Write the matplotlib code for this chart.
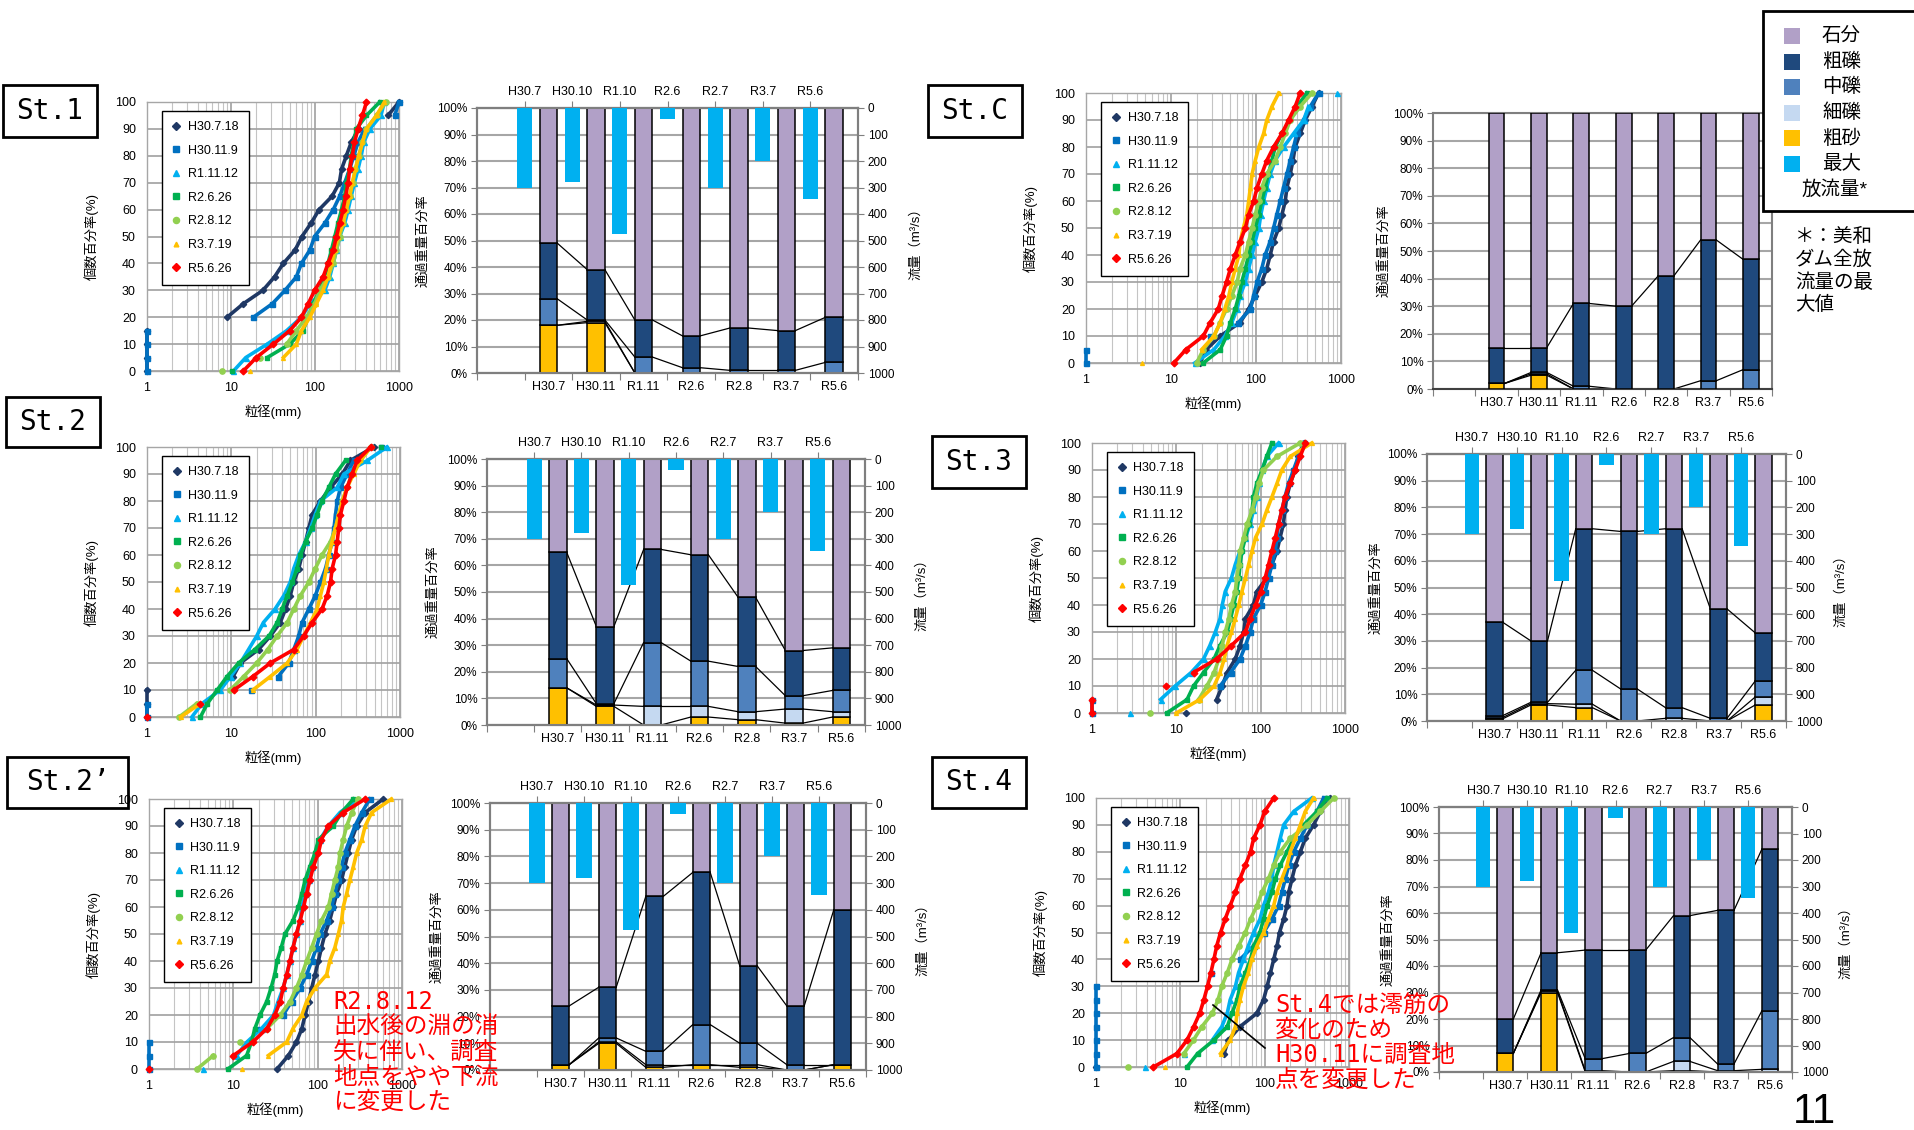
import matplotlib
matplotlib.use('Agg')
import matplotlib.pyplot as plt
import numpy as np
from matplotlib.patches import Rectangle
from matplotlib.lines import Line2D
from matplotlib.ticker import FuncFormatter, NullFormatter, PercentFormatter, FixedLocator

plt.rcParams['font.family'] = ['Liberation Sans', 'Noto Sans CJK JP']

# ---------------- data ----------------
SERIES_NAMES = ['H30.7.18', 'H30.11.9', 'R1.11.12', 'R2.6.26', 'R2.8.12', 'R3.7.19', 'R5.6.26']
SERIES_COLORS = ['#1F3864', '#0070C0', '#00B0F0', '#00B050', '#92D050', '#FFC000', '#FF0000']
SERIES_MARKERS = ['D', 's', '^', 's', 'o', '^', 'D']
SERIES_MS = [3.2, 3.6, 3.6, 3.4, 3.8, 2.8, 3.4]

# cumulative percentage levels (%), grain size (mm) read at each level
Y_LEVELS = [0, 5, 10, 15, 20, 25, 30, 35, 40, 45, 50, 55, 60, 65, 70, 75, 80, 85, 90, 95, 100]

ST1_GRAIN = [
    [1, 1, 1, 1, 9, 14, 24, 33, 42, 58, 70, 90, 112, 160, 195, 207, 236, 270, 330, 740, 1000],
    [1, 1, 1, 1, 18.5, 31, 44, 60, 69, 87, 99, 131, 165, 197, 226, 258, 290, 325, 390, 890, 1000],
    [10.7, 15, 27, 46, 69, 87, 131, 150, 165, 180, 197, 226, 248, 270, 295, 325, 355, 380, 450, 610, 670],
    [10.2, 27, 50, 72, 83, 95, 114, 131, 143, 157, 172, 188, 207, 226, 236, 258, 270, 290, 310, 410, 590],
    [7.8, 22, 46, 60, 79, 99, 114, 143, 165, 180, 197, 216, 236, 258, 282, 303, 332, 367, 410, 540, 700],
    [17, 42, 60, 69, 87, 104, 125, 143, 157, 172, 188, 216, 236, 258, 278, 303, 332, 367, 410, 540, 670],
    [14, 20, 32, 50, 69, 83, 99, 125, 143, 165, 180, 197, 216, 232, 248, 258, 278, 295, 325, 367, 410],
]
STC_GRAIN = [
    [22, 26, 38, 65, 82, 98, 117, 134, 147, 161, 185, 202, 221, 231, 253, 272, 289, 331, 380, 456, 545],
    [1, 1, 29, 62, 86, 94, 103, 117, 128, 147, 161, 176, 193, 211, 231, 253, 277, 303, 364, 435, 545],
    [19, 32, 43, 52, 60, 65, 75, 82, 90, 98, 108, 114, 123, 134, 147, 168, 211, 277, 364, 415, 890],
    [24, 38, 45, 50, 57, 63, 68, 75, 82, 90, 98, 108, 117, 128, 140, 154, 168, 202, 253, 303, 398],
    [20, 24, 32, 38, 45, 52, 60, 65, 75, 82, 90, 98, 108, 117, 134, 168, 193, 221, 253, 331, 456],
    [4.6, 23, 32, 38, 43, 48, 52, 57, 63, 65, 71, 78, 82, 86, 90, 98, 108, 123, 134, 154, 185],
    [10.8, 15, 24, 29, 36, 40, 45, 50, 57, 65, 75, 82, 94, 103, 117, 134, 161, 202, 242, 289, 331],
]
ST2_GRAIN = [
    [1, 1, 1, 10.5, 12.8, 21, 29, 38, 44, 50, 55, 63, 69, 76, 83, 91, 114, 150, 207, 258, 490],
    [1, 1, 17, 36, 48, 55, 63, 69, 83, 99, 114, 131, 143, 157, 165, 172, 180, 197, 236, 282, 590],
    [3.4, 4.5, 7.4, 9.8, 12.8, 16, 20, 24, 33, 42, 50, 55, 63, 76, 87, 99, 114, 180, 216, 410, 700],
    [4.3, 5.2, 6.8, 8.9, 12.2, 19, 28, 35, 40, 46, 53, 60, 66, 76, 91, 104, 119, 143, 172, 226, 590],
    [2.4, 3.9, 9.7, 14, 20, 27, 35, 46, 55, 66, 83, 99, 119, 150, 172, 188, 207, 236, 270, 340, 450],
    [2.5, 4.3, 18, 29, 46, 60, 72, 87, 104, 114, 125, 134, 143, 157, 172, 188, 207, 236, 282, 340, 450],
    [1, 4.2, 10.7, 18, 29, 55, 72, 91, 119, 137, 150, 157, 172, 180, 188, 197, 216, 236, 270, 310, 450],
]
ST3_GRAIN = [
    [13, 30, 35, 40, 50, 57, 63, 66, 82, 90, 118, 136, 156, 170, 186, 194, 204, 224, 256, 280, 323],
    [1, 1, 33, 44, 57, 66, 75, 82, 100, 113, 124, 136, 149, 156, 163, 178, 194, 214, 245, 280, 323],
    [2.8, 6.5, 9.7, 15, 21, 25, 29, 33, 35, 38, 45, 50, 57, 66, 75, 82, 90, 95, 104, 118, 163],
    [7.7, 13.4, 16, 21, 28, 33, 40, 44, 48, 52, 55, 57, 60, 66, 72, 79, 82, 90, 104, 118, 136],
    [4.9, 18.4, 23, 28, 32, 35, 38, 42, 45, 50, 52, 55, 57, 63, 69, 79, 87, 95, 108, 156, 294],
    [10, 19, 28, 33, 37, 40, 45, 50, 55, 60, 66, 72, 79, 87, 104, 118, 136, 156, 178, 224, 404],
    [1, 1, 7.6, 16, 30, 45, 66, 75, 87, 100, 113, 124, 136, 149, 163, 178, 194, 224, 256, 294, 340],
]
ST2D_GRAIN = [
    [33, 45, 56, 65, 71, 78, 85, 93, 102, 111, 122, 139, 153, 168, 192, 210, 230, 253, 290, 366, 600],
    [1, 1, 1, 19, 39, 49, 62, 74, 85, 97, 107, 128, 146, 160, 176, 192, 210, 241, 277, 334, 415],
    [4.4, 11, 14.5, 21.6, 30, 34, 39, 43, 47, 51, 56, 62, 65, 71, 78, 85, 93, 107, 134, 184, 303],
    [8.6, 14.4, 16.4, 18, 20.7, 24.9, 28, 31, 33, 37, 41, 51, 59, 65, 71, 81, 93, 102, 153, 192, 265],
    [3.7, 5.8, 12, 25, 36, 47, 56, 65, 74, 85, 97, 111, 134, 146, 160, 176, 184, 201, 221, 253, 303],
    [12.5, 26, 43, 51, 65, 74, 93, 128, 139, 160, 176, 192, 201, 221, 241, 265, 290, 334, 366, 437, 750],
    [1, 10, 17, 25, 31, 36, 39, 43, 47, 51, 56, 62, 68, 74, 81, 89, 102, 111, 134, 201, 366],
]
ST4_GRAIN = [
    [1, 33, 37, 51, 81, 97, 107, 117, 128, 140, 150, 168, 184, 193, 211, 231, 265, 303, 380, 457, 600],
    [1, 1, 1, 1, 1, 1, 1, 23, 51, 74, 97, 122, 146, 160, 176, 193, 221, 265, 318, 417, 500],
    [3.8, 11, 24, 31, 36, 39, 45, 49, 56, 64, 74, 88, 97, 111, 122, 128, 140, 153, 168, 221, 363],
    [12, 16, 25, 36, 41, 47, 51, 59, 68, 74, 88, 97, 107, 122, 134, 153, 184, 221, 290, 417, 550],
    [2.4, 11, 14.3, 18, 24, 28, 31, 36, 41, 49, 59, 68, 81, 93, 111, 128, 153, 201, 318, 457, 660],
    [6.6, 30, 39, 45, 47, 51, 56, 64, 70, 81, 97, 111, 128, 140, 160, 184, 201, 231, 265, 303, 380],
    [4.8, 9.1, 12, 14.4, 17, 19, 21, 23, 25, 27, 30, 34, 39, 45, 51, 59, 68, 74, 88, 100, 128],
]

# bar charts (passing weight percentage by class, bottom -> top)
SURVEY_LABELS = ['H30.7', 'H30.11', 'R1.11', 'R2.6', 'R2.8', 'R3.7', 'R5.6']
FLOW_LABELS = ['H30.7', 'H30.10', 'R1.10', 'R2.6', 'R2.7', 'R3.7', 'R5.6']
FLOW = [300, 280, 475, 40, 300, 200, 345]
COMP_NAMES = ['粗砂', '細礫', '中礫', '粗礫', '石分']
COMP_COLORS = ['#FFC000', '#C5D9F1', '#4F81BD', '#1F497D', '#B1A0C7']
FLOW_COLOR = '#00B0F0'

ST1_BARS = [[18, 19, 0, 0, 0, 0, 0],
            [0, 0.5, 0, 0, 0, 0, 0],
            [10, 0.5, 6, 2, 1, 1, 4],
            [21, 19, 14, 12, 16, 15, 17],
            [51, 61, 80, 86, 83, 84, 79]]
STC_BARS = [[2, 5, 0, 0, 0, 0, 0],
            [0, 0.5, 0, 0, 0, 0, 0],
            [0, 0.5, 1, 0, 0, 3, 7],
            [13, 9, 30, 30, 41, 51, 40],
            [85, 85, 69, 70, 59, 46, 53]]
ST2_BARS = [[14, 7, 0, 3, 2, 0.7, 3],
            [0, 0.5, 7, 4, 3, 5.3, 2],
            [11, 0.5, 24, 17, 17, 5, 8],
            [40, 29, 35, 40, 26, 17, 16],
            [35, 63, 34, 36, 52, 72, 71]]
ST3_BARS = [[0.8, 6, 5, 0, 0, 0, 6],
            [0.5, 0.5, 1.3, 0, 1, 0, 3],
            [0.7, 0.5, 12.7, 12, 4, 1, 6],
            [35, 23, 53, 59, 67, 41, 18],
            [63, 70, 28, 29, 28, 58, 67]]
ST2D_BARS = [[2, 10, 1, 2, 1, 0, 2],
             [0, 0.5, 1, 0, 1, 0, 0],
             [0, 1.5, 5, 15, 8, 2, 0],
             [22, 19, 58, 57, 29, 22, 58],
             [76, 69, 35, 26, 61, 76, 40]]
ST4_BARS = [[7, 30, 0, 0, 0.5, 0, 0],
            [0, 0.5, 0.5, 0, 3.5, 0.5, 1],
            [0, 0.5, 4.5, 7, 9, 2.5, 22],
            [13, 14, 41, 39, 46, 58, 61],
            [80, 55, 54, 54, 41, 39, 16]]

# ---------------- figure ----------------
W, H = 1915, 1130
fig = plt.figure(figsize=(W / 100, H / 100), dpi=100)


def frac_rect(x0, y0, x1, y1):
    return [x0 / W, 1 - y1 / H, (x1 - x0) / W, (y1 - y0) / H]


def fx(x):
    return x / W


def fy(y):
    return 1 - y / H


def grain_panel(rect, data):
    ax = fig.add_axes(frac_rect(*rect))
    ax.set_xscale('log')
    ax.set_xlim(1, 1000)
    ax.set_ylim(0, 100)
    ax.set_yticks(range(0, 101, 10))
    ax.xaxis.set_major_formatter(FuncFormatter(lambda v, p: f'{int(round(v))}'))
    ax.xaxis.set_minor_formatter(NullFormatter())
    ax.grid(which='major', color='#A0A0A0', lw=1.2)
    ax.grid(which='minor', axis='x', color='#C4C4C4', lw=0.8)
    ax.set_axisbelow(True)
    ax.tick_params(which='both', length=0, labelsize=9, pad=8)
    for s in ax.spines.values():
        s.set_color('#A6A6A6')
        s.set_linewidth(1.0)
    ys_all = np.array(Y_LEVELS, float)
    for xs, c, m, ms in zip(data, SERIES_COLORS, SERIES_MARKERS, SERIES_MS):
        xs = np.array(xs, float)
        segs = [[0]]
        for i in range(1, len(xs)):
            brk = ((xs[i - 1] == 1) != (xs[i] == 1)) or abs(np.log10(xs[i] / xs[i - 1])) > 0.3
            if brk:
                segs.append([i])
            else:
                segs[-1].append(i)
        for sg in segs:
            ax.plot(xs[sg], ys_all[sg], color=c, lw=2.6, marker=m, ms=ms,
                    mec=c, mfc=c, clip_on=False, zorder=3)
    handles = [Line2D([], [], ls='none', marker=m, color=c, ms=ms + 0.6)
               for c, m, ms in zip(SERIES_COLORS, SERIES_MARKERS, SERIES_MS)]
    leg = ax.legend(handles, SERIES_NAMES, loc='upper left', bbox_to_anchor=(0.06, 0.967),
                    borderaxespad=0, frameon=True, fancybox=False, edgecolor='black',
                    framealpha=1, fontsize=9, handlelength=0.7, handletextpad=0.6,
                    labelspacing=0.93, borderpad=0.8)
    leg.get_frame().set_linewidth(1.0)
    leg.set_zorder(5)
    ax.set_xlabel('粒径(mm)', fontsize=9.5)
    ax.set_ylabel('個数百分率(%)', fontsize=9.5)
    ax.xaxis.set_label_coords(0.5, -0.125)
    ax.yaxis.set_label_coords(-0.19, 0.5)
    return ax


def bar_panel(rect, comps, with_flow=True):
    ax = fig.add_axes(frac_rect(*rect))
    n = len(SURVEY_LABELS)
    xs_s = np.arange(n) + 1.5
    xs_f = np.arange(n) + 1.0
    wb = 0.37
    bottom = np.zeros(n)
    tops = []
    for vals, color in zip(comps, COMP_COLORS):
        v = np.array(vals, float)
        ax.bar(xs_s, v, width=wb, bottom=bottom, color=color, edgecolor='black',
               linewidth=1.1, zorder=3)
        bottom = bottom + v
        tops.append(bottom.copy())
    for t in tops[:-1]:
        for i in range(n - 1):
            ax.plot([xs_s[i] + wb / 2, xs_s[i + 1] - wb / 2], [t[i], t[i + 1]],
                    color='black', lw=0.9, zorder=2)
    ax.set_xlim(0, n + 1)
    ax.set_ylim(0, 100)
    ax.set_yticks(range(0, 101, 10))
    ax.yaxis.set_major_formatter(PercentFormatter(decimals=0))
    ax.set_xticks(np.arange(0, n + 2))
    ax.set_xticklabels([])
    ax.xaxis.set_minor_locator(FixedLocator(xs_s))
    ax.set_xticks(xs_s, SURVEY_LABELS, minor=True)
    ax.tick_params(axis='x', which='minor', length=0, labelsize=9, pad=6)
    ax.tick_params(axis='x', which='major', length=5, color='#7F7F7F', direction='out')
    ax.tick_params(axis='y', length=4, color='#7F7F7F', labelsize=8.5, pad=3)
    ax.grid(axis='y', color='#A6A6A6', lw=1.5, zorder=0)
    ax.set_axisbelow(True)
    for s in ax.spines.values():
        s.set_color('#7F7F7F')
        s.set_linewidth(1.5)
    ax.spines['bottom'].set_color('#404040')
    ax.set_ylabel('通過重量百分率', fontsize=9.5)
    ax.yaxis.set_label_coords(-0.125, 0.5)
    if with_flow:
        axr = ax.twinx()
        axr.bar(xs_f, FLOW, width=0.32, color=FLOW_COLOR, zorder=3)
        axr.set_ylim(1000, 0)
        axr.set_yticks(range(0, 1001, 100))
        axr.tick_params(axis='y', length=4, color='#7F7F7F', labelsize=8.5, pad=3)
        for s in axr.spines.values():
            s.set_color('#7F7F7F')
            s.set_linewidth(1.5)
        axr.set_ylabel('流量（m³/s）', fontsize=9.5)
        axr.yaxis.set_label_coords(1.135, 0.5)
        sec = ax.secondary_xaxis('top')
        sec.set_xticks(xs_f, FLOW_LABELS)
        sec.tick_params(length=5, color='#7F7F7F', labelsize=9, pad=2)
        sec.spines['top'].set_color('#7F7F7F')
        sec.spines['top'].set_linewidth(1.5)
    return ax


def station_box(x0, y0, x1, y1, label):
    fig.add_artist(Rectangle((fx(x0), fy(y1)), fx(x1) - fx(x0), fy(y0) - fy(y1),
                             transform=fig.transFigure, fill=False, ec='black', lw=2))
    fig.text(fx((x0 + x1) / 2), fy((y0 + y1) / 2), label, ha='center', va='center',
             fontsize=20, family=['DejaVu Sans Mono', 'Noto Sans CJK JP'])


# grain size panels
grain_panel((147, 102, 399, 371), ST1_GRAIN)
grain_panel((1086, 93, 1341, 363), STC_GRAIN)
grain_panel((147, 447, 400, 717), ST2_GRAIN)
grain_panel((1092, 443, 1345, 713), ST3_GRAIN)
grain_panel((149, 799, 402, 1069), ST2D_GRAIN)
grain_panel((1096, 798, 1349, 1067), ST4_GRAIN)

# bar panels
bar_panel((477, 108, 858, 373), ST1_BARS)
bar_panel((1433, 113, 1772, 389), STC_BARS, with_flow=False)
bar_panel((487, 459, 865, 725), ST2_BARS)
bar_panel((1427, 454, 1786, 721), ST3_BARS)
bar_panel((490, 803, 866, 1070), ST2D_BARS)
bar_panel((1439, 807, 1792, 1072), ST4_BARS)

# station labels
station_box(3, 85, 97, 137, 'St.1')
station_box(928, 85, 1022, 137, 'St.C')
station_box(6, 397, 100, 447, 'St.2')
station_box(932, 436, 1026, 488, 'St.3')
station_box(7, 757, 128, 808, 'St.2’')
station_box(932, 757, 1026, 808, 'St.4')

# top-right legend
fig.add_artist(Rectangle((fx(1763), fy(211)), fx(1930) - fx(1763), fy(11) - fy(211),
                         transform=fig.transFigure, fill=True, fc='white', ec='black', lw=2,
                         zorder=10))
leg_names = ['石分', '粗礫', '中礫', '細礫', '粗砂', '最大']
leg_colors = ['#B1A0C7', '#1F497D', '#4F81BD', '#C5D9F1', '#FFC000', FLOW_COLOR]
for k, (nm, cl) in enumerate(zip(leg_names, leg_colors)):
    yc = 36 + k * 25.6
    fig.add_artist(Rectangle((fx(1784), fy(yc + 8)), fx(1800) - fx(1784), fy(yc - 8) - fy(yc + 8),
                             transform=fig.transFigure, fc=cl, ec='none', zorder=11))
    fig.text(fx(1822), fy(yc), nm, ha='left', va='center', fontsize=14, zorder=12)
fig.text(fx(1802), fy(190), '放流量*', ha='left', va='center', fontsize=14, zorder=12)

fig.text(fx(1795), fy(228), '＊：美和\nダム全放\n流量の最\n大値', ha='left', va='top',
         fontsize=14, linespacing=1.3)

# red notes
fig.text(fx(333), fy(990), 'R2.8.12\n出水後の淵の消\n失に伴い、調査\n地点をやや下流\nに変更した',
         ha='left', va='top', fontsize=17, color='#FF0000', linespacing=1.05,
         family=['DejaVu Sans Mono', 'Noto Sans CJK JP'])
fig.text(fx(1275), fy(993), 'St.4では澪筋の\n変化のため\nH30.11に調査地\n点を変更した',
         ha='left', va='top', fontsize=17, color='#FF0000', linespacing=1.05,
         family=['DejaVu Sans Mono', 'Noto Sans CJK JP'])
fig.add_artist(Line2D([fx(1213), fx(1265)], [fy(1005), fy(1048)], transform=fig.transFigure,
                      color='black', lw=1.2))

fig.text(fx(1793), fy(1123), '11', ha='left', va='baseline', fontsize=30)

fig.savefig('out.png', dpi=100)
